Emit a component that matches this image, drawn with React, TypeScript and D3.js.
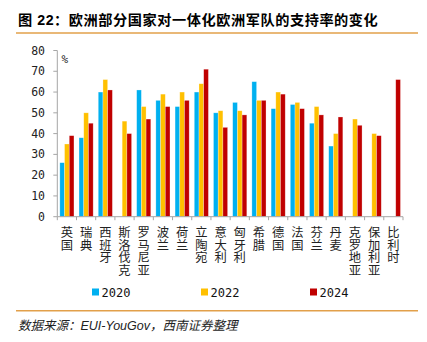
import React from "react";
import * as d3 from "d3";

const categories = ["英国", "瑞典", "西班牙", "斯洛伐克", "罗马尼亚", "波兰", "荷兰", "立陶宛", "意大利", "匈牙利", "希腊", "德国", "法国", "芬兰", "丹麦", "克罗地亚", "保加利亚", "比利时"];
const seriesNames = ["2020", "2022", "2024"];
const v2020: (number | null)[] = [26, 38, 60, null, 61, 56, 53, 60, 50, 55, 65, 52, 54, 45, 34, null, null, null];
const v2022: (number | null)[] = [35, 50, 66, 46, 53, 59, 60, 64, 51, 51, 56, 60, 55, 53, 40, 47, 40, null];
const v2024: (number | null)[] = [39, 45, 61, 40, 47, 53, 56, 71, 43, 49, 56, 59, 52, 49, 48, 44, 39, 66];
const yTicks = [0, 10, 20, 30, 40, 50, 60, 70, 80];
const colors = ["#00B0F0", "#FFC000", "#C00000"];

const W = 427;
const H = 342;
const left = 57.3;
const right = 403;
const y0 = 216.7;
const yTop = 50.5;

export default function App() {
  const series = [v2020, v2022, v2024];
  const x = d3.scaleBand<string>().domain(categories).range([left, right]).paddingInner(0).paddingOuter(0);
  const bw = x.bandwidth();
  const inner = d3.scaleBand<string>().domain(seriesNames).range([0, bw]).paddingInner(0).paddingOuter(0.54);
  const y = d3.scaleLinear().domain([0, 80]).range([y0, yTop]);
  const axisColor = "#A6A6A6";
  const mono = "'DejaVu Sans Mono', monospace";
  const cjk = "'Noto Sans CJK SC', sans-serif";
  const legendX = [92, 201, 310];

  return (
    <svg width={W} height={H} style={{ position: "fixed", left: 0, top: 0, background: "#fff" }}>
      <rect x={0} y={0} width={W} height={H} fill="#fff" />
      {/* title */}
      <text x={18} y={25} fontFamily={"'Liberation Sans', 'Noto Sans CJK SC', sans-serif"} fontWeight="bold" fontSize={14.2} letterSpacing={0.55} fill="#000">
        图 22：欧洲部分国家对一体化欧洲军队的支持率的变化
      </text>
      <line x1={16} x2={418} y1={33} y2={33} stroke="#E2A04A" strokeWidth={1.6} />

      {/* bars */}
      {series.map((vals, si) =>
        vals.map((v, ci) =>
          v == null ? null : (
            <rect
              key={`${si}-${ci}`}
              x={(x(categories[ci]) as number) + (inner(seriesNames[si]) as number)}
              y={y(v)}
              width={inner.bandwidth()}
              height={y0 - y(v)}
              fill={colors[si]}
              stroke="#fff"
              strokeOpacity={0.45}
              strokeWidth={0.6}
            />
          )
        )
      )}

      {/* y axis */}
      <line x1={left} x2={left} y1={yTop} y2={y0} stroke={axisColor} strokeWidth={1} />
      {yTicks.map((t) => (
        <g key={t}>
          <line x1={left - 4} x2={left} y1={y(t)} y2={y(t)} stroke={axisColor} strokeWidth={1} />
          <text x={45} y={y(t) + 4} textAnchor="end" fontFamily={mono} fontSize={11.5} fill="#222">
            {t}
          </text>
        </g>
      ))}
      <text x={61.5} y={63} fontFamily={mono} fontSize={11} fill="#222">%</text>

      {/* x axis */}
      <line x1={left} x2={right} y1={y0} y2={y0} stroke={axisColor} strokeWidth={1} />
      {categories.map((c, i) => (
        <line key={"t" + i} x1={x(c) as number} x2={x(c) as number} y1={y0} y2={y0 + 3.5} stroke={axisColor} strokeWidth={1} />
      ))}
      <line x1={right} x2={right} y1={y0} y2={y0 + 3.5} stroke={axisColor} strokeWidth={1} />
      {categories.map((c) => {
        const cx = (x(c) as number) + bw / 2;
        return (
          <text
            key={"l" + c}
            x={cx}
            y={226}
            style={{ writingMode: "vertical-rl", textOrientation: "upright" } as any}
            letterSpacing={0.5}
            fontFamily={cjk}
            fontSize={12.3}
            fill="#222"
          >
            {c}
          </text>
        );
      })}

      {/* legend */}
      {seriesNames.map((s, i) => (
        <g key={s}>
          <rect x={legendX[i]} y={288.5} width={7} height={7} fill={colors[i]} />
          <text x={legendX[i] + 9.5} y={296.5} fontFamily={mono} fontSize={12} fill="#111">
            {s}
          </text>
        </g>
      ))}

      {/* footer */}
      <line x1={16} x2={418} y1={310.7} y2={310.7} stroke="#E2A04A" strokeWidth={1.6} />
      <text x={18} y={329.5} fontFamily={"'Liberation Sans', 'Noto Sans CJK SC', sans-serif"} fontStyle="italic" fontSize={12.5} fill="#222">
        数据来源：EUI-YouGov，西南证券整理
      </text>
    </svg>
  );
}
